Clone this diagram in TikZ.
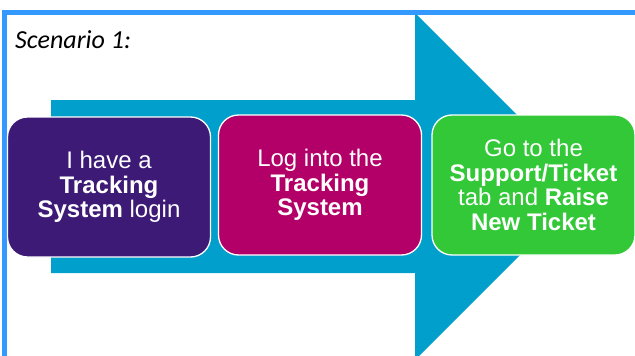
\documentclass[tikz,border=0pt]{standalone}
\usepackage{fontspec}
\setmainfont{Liberation Sans}
\newfontfamily\calib{Carlito}
\definecolor{framebl}{HTML}{3399FF}
\definecolor{arrowbl}{HTML}{009FCC}
\definecolor{boxpur}{HTML}{3C1A76}
\definecolor{boxmag}{HTML}{B30068}
\definecolor{boxgrn}{HTML}{33C838}
\begin{document}
\begin{tikzpicture}[x=1pt,y=-1pt,
  stepbox/.style={draw=white,line width=1.3pt,rounded corners=20pt,
    minimum width=#1,minimum height=140pt,inner sep=0pt,
    text=white,align=center,font=\fontsize{24}{24.5}\selectfont},
  stepbox/.default=203pt]
\useasboundingbox (0,0) rectangle (635,356);
\begin{scope}
\clip (0,0) rectangle (635,356);
% big arrow
\fill[arrowbl] (51,100) -- (415,100) -- (415,13) -- (588.5,186.5) -- (415,360)
  -- (415,273) -- (51,273) -- cycle;
% frame
\draw[framebl,line width=5pt] (4.5,400) -- (4.5,12.5) -- (700,12.5);
\end{scope}
\node[anchor=base west,font=\calib\itshape\fontsize{26}{30}\selectfont,inner sep=0pt]
  (title) at (15,48) {Scenario 1:};
\node[stepbox,fill=boxpur] (s1) at (109,187)
  {I have a\\\textbf{Tracking}\\\textbf{System} login};
\node[stepbox,fill=boxmag] (s2) at (320,185)
  {Log into the\\\textbf{Tracking}\\\textbf{System}};
\node[stepbox,fill=boxgrn] (s3) at (533.5,185)
  {Go to the\\\textbf{Support/Ticket}\\tab and \textbf{Raise}\\\textbf{New Ticket}};
\end{tikzpicture}
\end{document}
